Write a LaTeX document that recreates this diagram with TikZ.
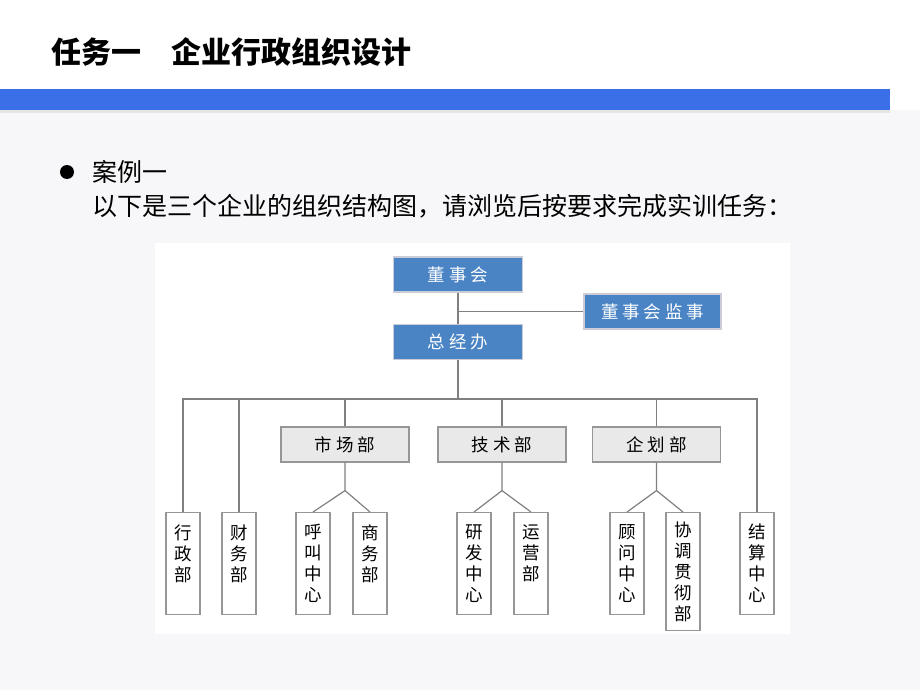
\documentclass[tikz,border=0pt]{standalone}
\usepackage{fontspec}
\newfontfamily\cjk{Noto Sans CJK SC}
\newfontfamily\cjkwide[LetterSpace=22]{Noto Sans CJK SC}
\usetikzlibrary{positioning}
\definecolor{barblue}{RGB}{59,111,232}
\definecolor{boxblue}{RGB}{74,132,197}
\definecolor{boxgray}{RGB}{233,233,233}
\definecolor{edgegray}{RGB}{150,150,150}
\definecolor{linegray}{RGB}{128,128,128}
\definecolor{slidegray}{RGB}{247,247,249}
\begin{document}
\begin{tikzpicture}[x=1pt,y=-1pt,
    conn/.style={draw=linegray,line width=1.2pt},
    bluebox/.style={fill=boxblue,draw=blue!15!gray!35,line width=1.5pt,minimum height=35pt,
      text=white,font=\cjkwide\fontsize{17.5}{20}\selectfont},
    deptbox/.style={fill=boxgray,draw=edgegray,line width=1.2pt,minimum width=128pt,minimum height=35pt,
      font=\cjkwide\fontsize{17.5}{20}\selectfont},
    unitbox/.style={fill=white,draw=edgegray,line width=1.2pt,minimum width=34pt,minimum height=102pt,
      anchor=north,align=center,inner sep=0pt,font=\cjk\fontsize{17.5}{21}\selectfont}]
    \useasboundingbox (0,0) rectangle (920,690);
    % slide
    \fill [white] (0,0) rectangle (920,690);
    \fill [slidegray] (0,110) rectangle (920,690);
    \fill [gray!20] (0,110) rectangle (890,113);
    \fill [barblue] (0,89) rectangle (890,110);
    \node [anchor=west,font=\cjk\bfseries\fontsize{30}{34}\selectfont] (title) at (48,52) {任务一　企业行政组织设计};
    \fill (67,172) circle (7);
    \node [anchor=west,font=\cjk\fontsize{25}{30}\selectfont,inner sep=0pt] (case) at (92,172) {案例一};
    \node [anchor=west,font=\cjk\fontsize{25}{30}\selectfont,inner sep=0pt] (task) at (92,206) {以下是三个企业的组织结构图，请浏览后按要求完成实训任务：};
    % chart
    \fill [white] (155,243) rectangle (790,634);
    \node [bluebox,minimum width=129pt] (dsh) at (458,274.5) {董事会};
    \node [bluebox,minimum width=137pt] (jshi) at (652.5,311.5) {董事会监事};
    \node [bluebox,minimum width=129pt] (zjb) at (458,342) {总经办};
    \node [deptbox] (scb) at (345,444.5) {市场部};
    \node [deptbox] (jsb) at (502,444.5) {技术部};
    \node [deptbox] (qhb) at (656.5,444.5) {企划部};
    \node [unitbox] (xzb) at (183,512) {行\\政\\部\\~};
    \node [unitbox] (cwb) at (239,512) {财\\务\\部\\~};
    \node [unitbox] (hjzx) at (313,512) {呼\\叫\\中\\心};
    \node [unitbox] (swb) at (370,512) {商\\务\\部\\~};
    \node [unitbox] (yfzx) at (474,512) {研\\发\\中\\心};
    \node [unitbox] (yyb) at (531,512) {运\\营\\部\\~};
    \node [unitbox] (gwzx) at (627,512) {顾\\问\\中\\心};
    \node [unitbox,minimum height=118pt] (xtb) at (683,512) {协\\调\\贯\\彻\\部};
    \node [unitbox] (jszx) at (757,512) {结\\算\\中\\心};
    \coordinate (bus) at (0,399);
    \draw [conn] (dsh) -- (zjb);
    \draw [conn] (dsh.south |- jshi.west) -- (jshi.west);
    \draw [conn] (zjb.south) -- (zjb.south |- bus);
    \draw [conn] (xzb.north) -- (xzb.north |- bus) -- (jszx.north |- bus) -- (jszx.north);
    \foreach \n in {cwb,scb,jsb,qhb}
        \draw [conn] (\n.north) -- (\n.north |- bus);
    \draw [conn] (scb.south) -- ++(0,28) coordinate (scfork) -- (hjzx.north);
    \draw [conn] (scfork) -- (swb.north);
    \draw [conn] (jsb.south) -- ++(0,28) coordinate (jsfork) -- (yfzx.north);
    \draw [conn] (jsfork) -- (yyb.north);
    \draw [conn] (qhb.south) -- ++(0,28) coordinate (qhfork) -- (gwzx.north);
    \draw [conn] (qhfork) -- (xtb.north);
\end{tikzpicture}
\end{document}
